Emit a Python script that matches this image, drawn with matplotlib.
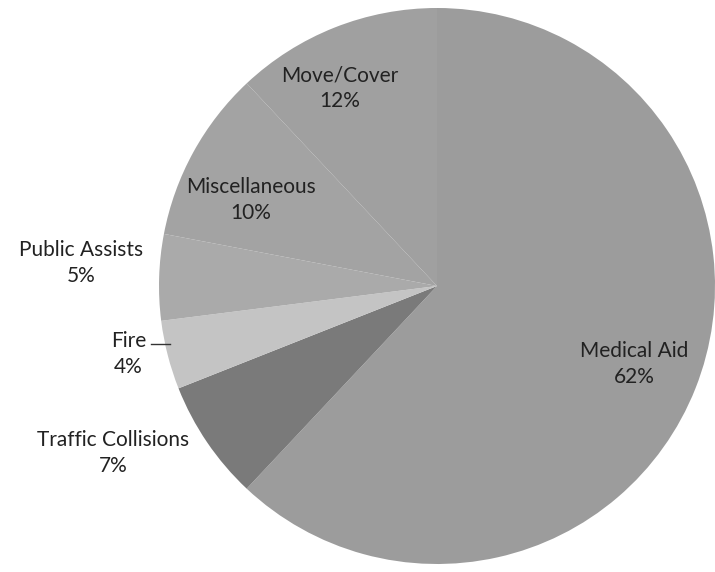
import matplotlib.pyplot as plt
import numpy as np

categories = ["Medical Aid", "Traffic Collisions", "Fire", "Public Assists", "Miscellaneous", "Move/Cover"]
values = [62, 7, 4, 5, 10, 12]
shades = ["#9c9c9c", "#7a7a7a", "#c4c4c4", "#aaaaaa", "#a3a3a3", "#a0a0a0"]

# label anchor points (axes data units, pie radius = 1)
label_pos = {
    "Medical Aid": (0.71, -0.28),
    "Traffic Collisions": (-1.165, -0.60),
    "Fire": (-1.11, -0.245),
    "Public Assists": (-1.28, 0.083),
    "Miscellaneous": (-0.67, 0.31),
    "Move/Cover": (-0.35, 0.71),
}

plt.rcParams["font.family"] = ["Lato", "DejaVu Sans"]

W, H = 715, 572
cx, cy, r = 437, 286, 278
fig = plt.figure(figsize=(W / 100, H / 100), dpi=100)
ax = fig.add_axes([(cx - r) / W, (H - cy - r) / H, 2 * r / W, 2 * r / H])

ax.pie(values, colors=shades, startangle=90, counterclock=False, radius=1,
       wedgeprops=dict(edgecolor="none", linewidth=0))
ax.set_xlim(-1, 1)
ax.set_ylim(-1, 1)
ax.set_aspect("equal")
ax.axis("off")

for cat, val in zip(categories, values):
    x, y = label_pos[cat]
    ax.text(x, y, f"{cat}\n{val}%", ha="center", va="center", fontsize=15,
            color="#222222", linespacing=1.35, clip_on=False)

# leader line for Fire
ax.plot([-1.03, -0.96], [-0.21, -0.21], color="#333333", lw=1, clip_on=False)

fig.savefig("out.png", dpi=100)
